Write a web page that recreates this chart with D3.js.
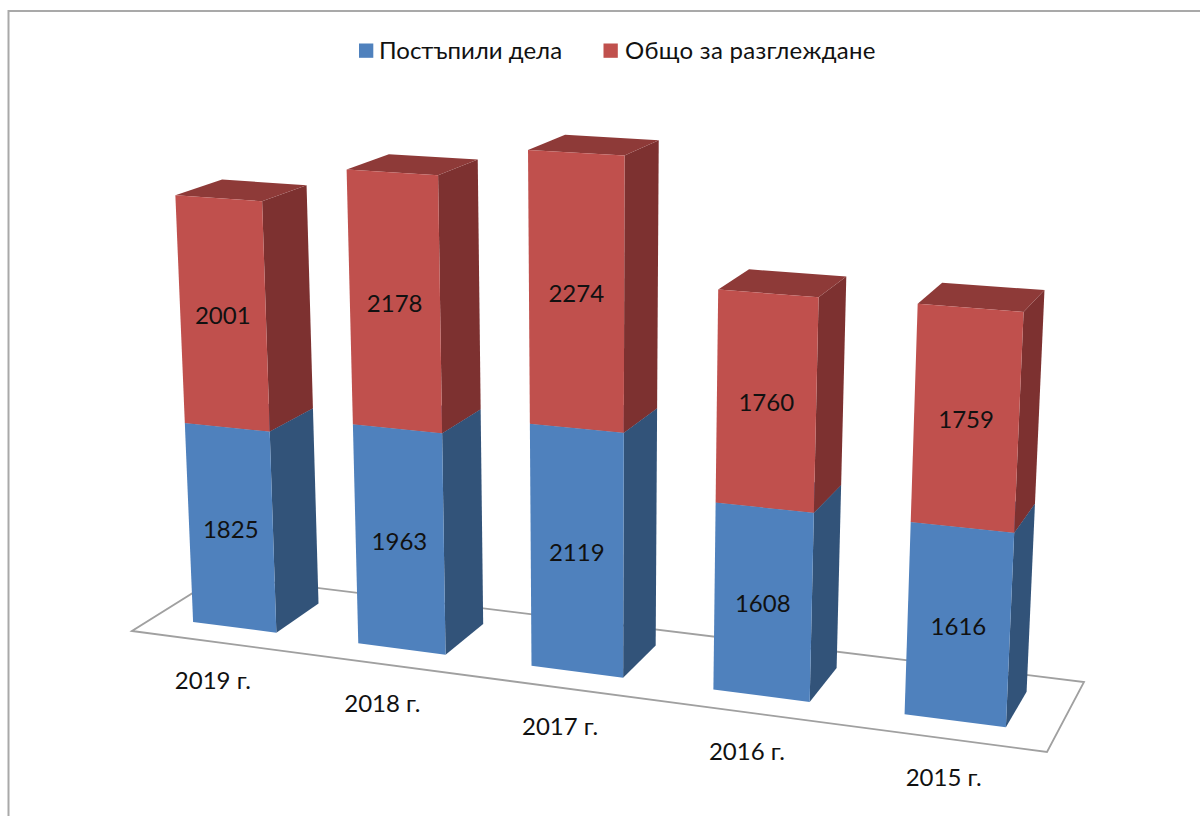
<!DOCTYPE html>
<html>
<head>
<meta charset="utf-8">
<style>
  html, body { margin: 0; padding: 0; background: #fff; }
  svg { display: block; }
  text { font-family: Lato, Carlito, "Noto Sans", sans-serif; fill: #111; }
</style>
</head>
<body>
<div id="chart"></div>
<script src="https://cdn.jsdelivr.net/npm/d3@7"></script>
<script>
const years = ["2019 г.", "2018 г.", "2017 г.", "2016 г.", "2015 г."]
const received = [1825, 1963, 2119, 1608, 1616]
const total = [2001, 2178, 2274, 1760, 1759]
const seriesNames = ["Постъпили дела", "Общо за разглеждане"]
const frontColors = ["#4f81bd", "#c0504d"]
const sideColors = ["#325379", "#7d3130"]
const topColors = ["#3a6191", "#8e3a38"]

const width = 1200
const height = 816

const svg = d3.select("#chart").append("svg")
    .attr("width", width)
    .attr("height", height)
    .attr("viewBox", [0, 0, width, height])

// camera: floor quad on screen (front-left, front-right, back-right, back-left)
// and the point where the vertical edges of the columns meet, far below the chart
const floor = [[132, 631], [1047, 752], [1084, 682], [220, 576]]
const verticalVanish = [597, 10340]
const perspectivePerUnit = -1.11e-5

function floorMatrix([p0, p1, p2, p3]) {
    const dx1 = p1[0] - p2[0], dx2 = p3[0] - p2[0], sx = p0[0] - p1[0] + p2[0] - p3[0]
    const dy1 = p1[1] - p2[1], dy2 = p3[1] - p2[1], sy = p0[1] - p1[1] + p2[1] - p3[1]
    const det = dx1 * dy2 - dx2 * dy1
    const g = (sx * dy2 - dx2 * sy) / det
    const h = (dx1 * sy - sx * dy1) / det
    return {
        a: [p0[0], p1[0] - p0[0] + g * p1[0], p3[0] - p0[0] + h * p3[0]],
        b: [p0[1], p1[1] - p0[1] + g * p1[1], p3[1] - p0[1] + h * p3[1]],
        c: [1, g, h]
    }
}
const m = floorMatrix(floor)

// u along the front edge, v into the depth, t = value already scaled
function project(u, v, t) {
    const w = m.c[0] + m.c[1] * u + m.c[2] * v + t
    const x = m.a[0] + m.a[1] * u + m.a[2] * v + verticalVanish[0] * t
    const y = m.b[0] + m.b[1] * u + m.b[2] * v + verticalVanish[1] * t
    return [x / w, y / w]
}

// Scales
const x = d3.scaleBand()
    .domain(years)
    .range([-0.001, 0.999])
    .paddingInner(0.49)
    .paddingOuter(0.245)

const depth = d3.scaleLinear().domain([0, 1]).range([0.245, 0.76])

const maxValue = d3.max(years, (_, i) => received[i] + total[i])
const y = d3.scaleLinear()
    .domain([0, maxValue])
    .range([0, maxValue * perspectivePerUnit])

// Stack
const rows = years.map((year, i) => ({ year, received: received[i], total: total[i] }))
const series = d3.stack().keys(["received", "total"])(rows)

const polygon = d3.line()

// chart frame, only left and top fall inside the picture
svg.append("rect")
    .attr("x", 8.5)
    .attr("y", 11)
    .attr("width", width + 50)
    .attr("height", height + 50)
    .attr("fill", "none")
    .attr("stroke", "#a9a9a9")
    .attr("stroke-width", 2)

// floor
svg.append("path")
    .attr("d", polygon([project(0, 0, 0), project(1, 0, 0), project(1, 1, 0), project(0, 1, 0)]) + "Z")
    .attr("fill", "none")
    .attr("stroke", "#a0a0a0")
    .attr("stroke-width", 1.8)

// columns, left to right so nearer ones cover the earlier ones
const columns = svg.append("g")
    .selectAll("g")
    .data(years)
    .join("g")

columns.each(function(year, i) {
    const g = d3.select(this)
    const u0 = x(year)
    const u1 = u0 + x.bandwidth()
    series.forEach((s, k) => {
        const t0 = y(s[i][0])
        const t1 = y(s[i][1])
        const zf = depth(0)
        const zb = depth(1)
        g.append("path")
            .attr("fill", sideColors[k])
            .attr("d", polygon([project(u1, zf, t0), project(u1, zb, t0), project(u1, zb, t1), project(u1, zf, t1)]) + "Z")
        g.append("path")
            .attr("fill", topColors[k])
            .attr("d", polygon([project(u0, zf, t1), project(u1, zf, t1), project(u1, zb, t1), project(u0, zb, t1)]) + "Z")
        g.append("path")
            .attr("fill", frontColors[k])
            .attr("d", polygon([project(u0, zf, t0), project(u1, zf, t0), project(u1, zf, t1), project(u0, zf, t1)]) + "Z")
    })
})

// value labels in the middle of each front face
series.forEach(s => {
    svg.append("g")
        .selectAll("text")
        .data(s)
        .join("text")
        .attr("text-anchor", "middle")
        .attr("dominant-baseline", "central")
        .attr("font-size", 24)
        .each(function(d, i) {
            const u = x(years[i]) + x.bandwidth() / 2
            const [px, py] = project(u, depth(0), y((d[0] + d[1]) / 2))
            d3.select(this).attr("x", px).attr("y", py)
        })
        .text(d => d[1] - d[0])
})

// category labels under the front edge of the floor
svg.append("g")
    .selectAll("text")
    .data(years)
    .join("text")
    .attr("text-anchor", "middle")
    .attr("dominant-baseline", "central")
    .attr("font-size", 24)
    .each(function(d) {
        const [px, py] = project(x(d) + x.bandwidth() / 2, 0, 0)
        d3.select(this).attr("x", px).attr("y", py + 38)
    })
    .text(d => d)

// legend
const legendX = d3.scaleOrdinal().domain(seriesNames).range([359, 603.5])

const legend = svg.append("g")
    .selectAll("g")
    .data(seriesNames)
    .join("g")
    .attr("transform", d => `translate(${legendX(d)},43.5)`)

legend.append("rect")
    .attr("width", 14.3)
    .attr("height", 14.3)
    .attr("fill", (d, i) => frontColors[i])

legend.append("text")
    .attr("x", (d, i) => i === 0 ? 20 : 21.5)
    .attr("y", 15)
    .attr("font-size", 24)
    .attr("letter-spacing", (d, i) => i === 1 ? 0.28 : 0)
    .text(d => d)
</script>
</body>
</html>
